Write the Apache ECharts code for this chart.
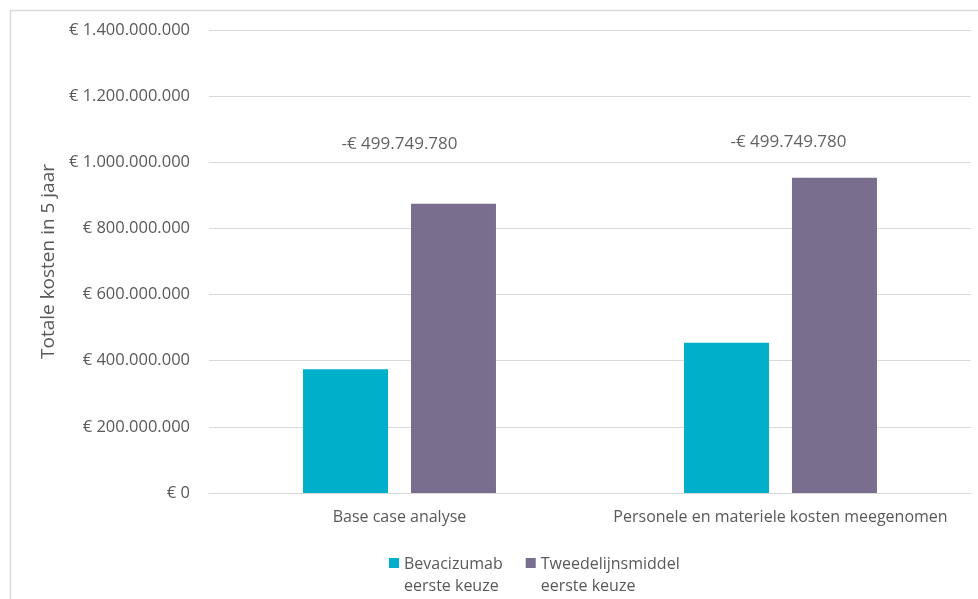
<!DOCTYPE html>
<html>
<head>
<meta charset="utf-8">
<script src="https://cdn.jsdelivr.net/npm/echarts@6/dist/echarts.min.js"></script>
<style>
html,body{margin:0;padding:0;background:#fff;}
#chart{width:978px;height:599px;}
</style>
</head>
<body>
<div id="chart"></div>
<script>
const categories = ['Base case analyse', 'Personele en materiele kosten meegenomen'];
const seriesNames = ['Bevacizumab\neerste keuze', 'Tweedelijnsmiddel\neerste keuze'];
const bevacizumab = [374000000, 454000000];
const tweedelijns = [875000000, 953000000];
const diffLabels = ['-€ 499.749.780', '-€ 499.749.780'];
const diffLabelY = [1055000000, 1061000000];
const yTicks = [0, 200000000, 400000000, 600000000, 800000000, 1000000000, 1200000000, 1400000000];

function fmtEuro(v) {
  const s = Math.round(v).toString().replace(/\B(?=(\d{3})+(?!\d))/g, '.');
  return '€ ' + s;
}

const font = "'Open Sans', 'Noto Sans', sans-serif";
const chart = echarts.init(document.getElementById('chart'));
chart.setOption({
  animation: false,
  backgroundColor: '#ffffff',
  textStyle: { fontFamily: font },
  graphic: [{
    type: 'rect', left: 8, top: 8, z: -1,
    shape: { width: 990, height: 620 },
    style: { fill: 'none', stroke: '#d9d9d9', lineWidth: 1.5 }
  }],
  grid: { left: 209, right: 7, top: 30, bottom: 106, containLabel: false },
  legend: {
    data: seriesNames,
    left: 384, top: 548,
    itemWidth: 10, itemHeight: 34, itemGap: 23,
    icon: 'path://M0,0L10,0L10,10L0,10Z M0,34L0.01,34',
    textStyle: { color: '#595959', fontSize: 16, fontFamily: font, lineHeight: 22, padding: [0, 0, 0, 0] }
  },
  xAxis: {
    type: 'category',
    data: categories,
    axisLine: { show: true, lineStyle: { color: '#d9d9d9', width: 1 } },
    axisTick: { show: false },
    axisLabel: { color: '#595959', fontSize: 16, margin: 16, interval: 0, fontFamily: font }
  },
  yAxis: {
    type: 'value',
    min: 0, max: 1400000000, interval: 200000000,
    name: 'Totale kosten in 5 jaar',
    nameLocation: 'middle',
    nameGap: 148,
    nameTextStyle: { color: '#595959', fontSize: 19, fontFamily: font },
    axisLine: { show: false },
    axisTick: { show: false },
    splitLine: { lineStyle: { color: '#d9d9d9', width: 1 } },
    axisLabel: {
      color: '#595959', fontSize: 16.5, margin: 19, fontFamily: font,
      formatter: function (v) { return yTicks.indexOf(v) >= 0 ? fmtEuro(v) : ''; }
    }
  },
  series: [
    {
      name: seriesNames[0], type: 'bar', data: bevacizumab,
      barWidth: 85, barGap: '27%',
      itemStyle: { color: '#00B0CB' }
    },
    {
      name: seriesNames[1], type: 'bar', data: tweedelijns,
      barWidth: 85, barGap: '27%',
      itemStyle: { color: '#7A6E8E' }
    },
    {
      name: 'verschil', type: 'scatter',
      symbolSize: 1, itemStyle: { color: 'rgba(0,0,0,0)' },
      data: categories.map(function (c, i) {
        return {
          value: [c, diffLabelY[i]],
          label: { offset: [i === 0 ? 0 : 8, 0] }
        };
      }),
      label: {
        show: true, position: 'inside',
        color: '#3a3a3a', fontSize: 17, fontFamily: font,
        formatter: function (p) { return diffLabels[p.dataIndex]; }
      },
      silent: true, z: 5
    }
  ]
});
</script>
</body>
</html>
